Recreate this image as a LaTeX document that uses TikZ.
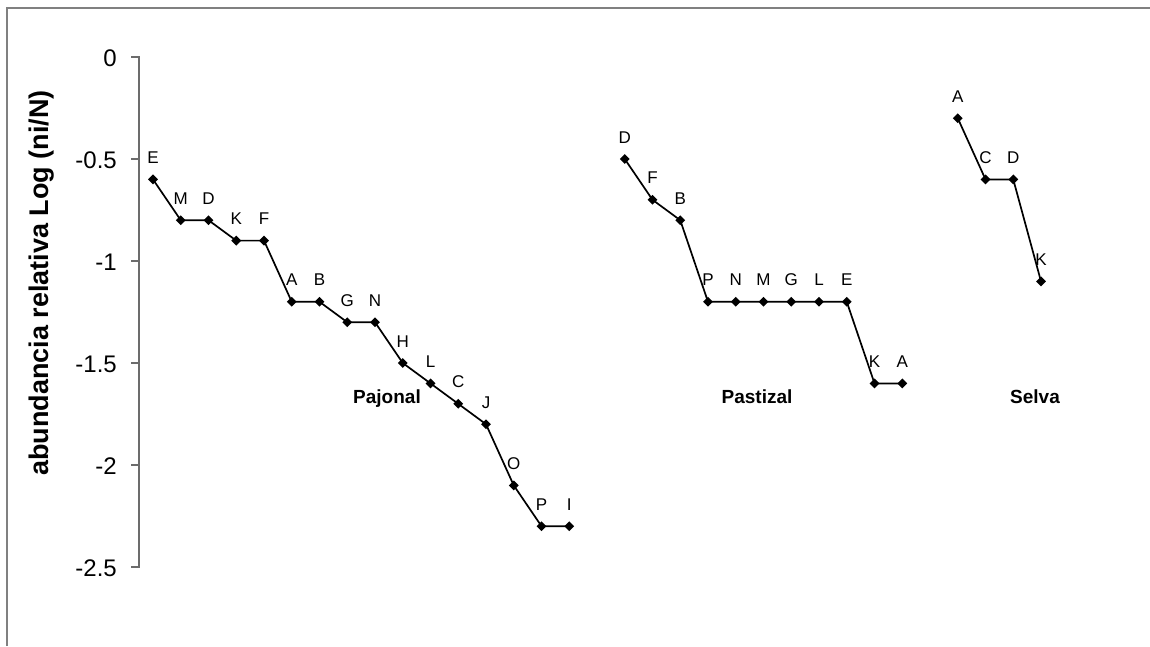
\documentclass[tikz,border=0pt]{standalone}
\usepackage{fontspec}
\setmainfont{Liberation Sans}
\usetikzlibrary{shapes.geometric}
\begin{document}
\begin{tikzpicture}[x=1pt,y=-1pt,
  mk/.style={diamond, fill=black, draw=none, inner sep=0pt, minimum width=10pt, minimum height=10pt},
  lab/.style={font=\fontsize{17}{17}\selectfont, anchor=base, inner sep=0pt},
  series/.style={line width=1.7pt, black},
  axisline/.style={line width=1.3pt, gray!85!black},
  ticklab/.style={font=\fontsize{24}{24}\selectfont, anchor=east, inner sep=0pt},
  grp/.style={font=\bfseries\fontsize{19}{19}\selectfont, anchor=base, inner sep=0pt}
]
\useasboundingbox (0,0) rectangle (1150,646);
% frame
\draw[line width=1.2pt, gray] (7,646) -- (7,8) -- (1150,8);
% axis
\draw[axisline] (131,57) -- (139,57) -- (139,567) -- (131,567);
\foreach \yy in {159,261,363,465} { \draw[axisline] (131,\yy) -- (139,\yy); }
\foreach \yy/\t [count=\c] in {57/0,159/-0.5,261/-1,363/-1.5,465/-2,567/-2.5} {
  \node[ticklab] (tick\c) at (117,\yy+1) {\t};
}
\node[font=\bfseries\fontsize{27}{27}\selectfont, rotate=90, inner sep=0pt] (ytitle) at (42,283) {abundancia relativa Log (ni/N)};
% Pajonal
\foreach \k/\l/\v in {1/E/0.6,2/M/0.8,3/D/0.8,4/K/0.9,5/F/0.9,6/A/1.2,7/B/1.2,8/G/1.3,9/N/1.3,10/H/1.5,11/L/1.6,12/C/1.7,13/J/1.8,14/O/2.1,15/P/2.3,16/I/2.3} {
  \node[mk] (paj\k) at ({153+27.75*(\k-1)},{57+204*\v}) {};
  \path (paj\k.center) ++(0,-16) node[lab] (pajl\k) {\l};
}
\draw[series] (paj1.center) \foreach \k in {2,...,16} { -- (paj\k.center) };
% Pastizal
\foreach \k/\l/\v in {1/D/0.5,2/F/0.7,3/B/0.8,4/P/1.2,5/N/1.2,6/M/1.2,7/G/1.2,8/L/1.2,9/E/1.2,10/K/1.6,11/A/1.6} {
  \node[mk] (pas\k) at ({153+27.75*(\k+16)},{57+204*\v}) {};
  \path (pas\k.center) ++(0,-16) node[lab] (pasl\k) {\l};
}
\draw[series] (pas1.center) \foreach \k in {2,...,11} { -- (pas\k.center) };
% Selva
\foreach \k/\l/\v in {1/A/0.3,2/C/0.6,3/D/0.6,4/K/1.1} {
  \node[mk] (sel\k) at ({153+27.75*(\k+28)},{57+204*\v}) {};
  \path (sel\k.center) ++(0,-16) node[lab] (sell\k) {\l};
}
\draw[series] (sel1.center) \foreach \k in {2,...,4} { -- (sel\k.center) };
% group labels
\node[grp] (gpaj) at (387,403) {Pajonal};
\node[grp] (gpas) at (757,403) {Pastizal};
\node[grp] (gsel) at (1035,403) {Selva};
\end{tikzpicture}
\end{document}
